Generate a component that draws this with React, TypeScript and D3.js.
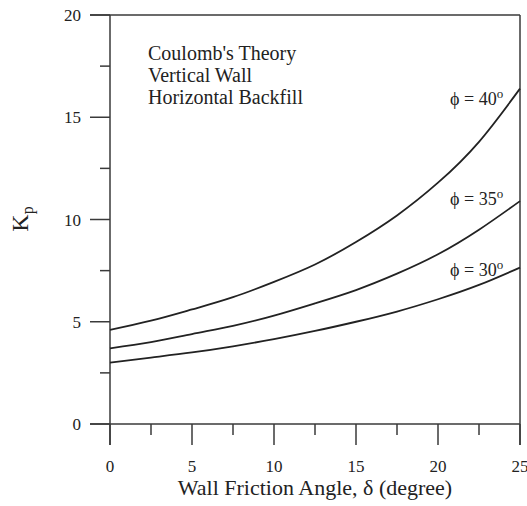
import React from 'react'
import * as d3 from 'd3'

// wall friction angle (degree)
const delta = [0, 2.5, 5, 7.5, 10, 12.5, 15, 17.5, 20, 22.5, 25]
// Kp
const kp30 = [3.0, 3.25, 3.5, 3.8, 4.15, 4.55, 5.0, 5.5, 6.1, 6.8, 7.65]
const kp35 = [3.7, 4.0, 4.4, 4.8, 5.3, 5.9, 6.55, 7.35, 8.3, 9.5, 10.9]
const kp40 = [4.6, 5.05, 5.6, 6.2, 6.95, 7.8, 8.9, 10.2, 11.8, 13.8, 16.4]
const phiLabels = ['30', '35', '40']
const xTicks = [0, 5, 10, 15, 20, 25]
const yTicks = [0, 5, 10, 15, 20]
const notes = ["Coulomb's Theory", 'Vertical Wall', 'Horizontal Backfill']

const W = 527
const H = 506
const FONT = '"Liberation Serif", "Times New Roman", serif'
const INK = '#222'

export default function App() {
  const x = d3.scaleLinear().domain([0, 25]).range([110, 520])
  const y = d3.scaleLinear().domain([0, 20]).range([424, 15])

  const line = d3.line<number>()
    .x((d, i) => x(delta[i]))
    .y(d => y(d))
    .curve(d3.curveNatural)

  const series = [kp30, kp35, kp40]
  // label baselines, placed just left of each curve end
  const labelY = [276, 205, 105]

  const minorX = d3.range(2.5, 25, 5)
  const minorY = d3.range(2.5, 20, 5)

  return (
    <svg width={W} height={H} style={{ position: 'absolute', left: 0, top: 0, display: 'block' }}
      fontFamily={FONT} fill={INK}>
      <rect width={W} height={H} fill="#fff" />

      {/* frame */}
      <g stroke="#3a3a3a" strokeWidth={1.5} fill="none">
        <line x1={x(0)} x2={x(0)} y1={y(20)} y2={y(0) + 21} />
        <line x1={x(0) - 20} x2={x(25)} y1={y(0)} y2={y(0)} />
        <line x1={x(0) - 20} x2={x(25)} y1={y(20)} y2={y(20)} />
        <line x1={x(25)} x2={x(25)} y1={y(20)} y2={y(0) + 21} />
        {xTicks.map(t => (
          <line key={'xt' + t} x1={x(t)} x2={x(t)} y1={y(0)} y2={y(0) + 21} />
        ))}
        {minorX.map(t => (
          <line key={'xm' + t} x1={x(t)} x2={x(t)} y1={y(0)} y2={y(0) + 11} />
        ))}
        {yTicks.map(t => (
          <line key={'yt' + t} x1={x(0) - 20} x2={x(0)} y1={y(t)} y2={y(t)} />
        ))}
        {minorY.map(t => (
          <line key={'ym' + t} x1={x(0) - 10} x2={x(0)} y1={y(t)} y2={y(t)} />
        ))}
      </g>

      {/* tick labels */}
      <g fontSize={17}>
        {xTicks.map(t => (
          <text key={'xl' + t} x={x(t)} y={y(0) + 48} textAnchor="middle">{t}</text>
        ))}
        {yTicks.map(t => (
          <text key={'yl' + t} x={81} y={y(t) + 6} textAnchor="end">{t}</text>
        ))}
      </g>

      {/* axis titles */}
      <text x={315} y={495} fontSize={22} textAnchor="middle">
        Wall Friction Angle, δ (degree)
      </text>
      <text transform="translate(28,219) rotate(-90)" fontSize={24} textAnchor="middle">
        K<tspan fontSize={16} dy={5}>p</tspan>
      </text>

      {/* curves */}
      {series.map((s, i) => (
        <path key={'c' + i} d={line(s) || ''} fill="none" stroke={INK} strokeWidth={1.8} />
      ))}

      {/* curve labels */}
      {phiLabels.map((p, i) => (
        <text key={'pl' + p} x={450} y={labelY[i]} fontSize={18}>
          ϕ = {p}<tspan fontSize={13} dy={-7}>o</tspan>
        </text>
      ))}

      {/* notes */}
      {notes.map((n, i) => (
        <text key={'n' + i} x={148} y={60 + i * 22} fontSize={20}>{n}</text>
      ))}
    </svg>
  )
}
